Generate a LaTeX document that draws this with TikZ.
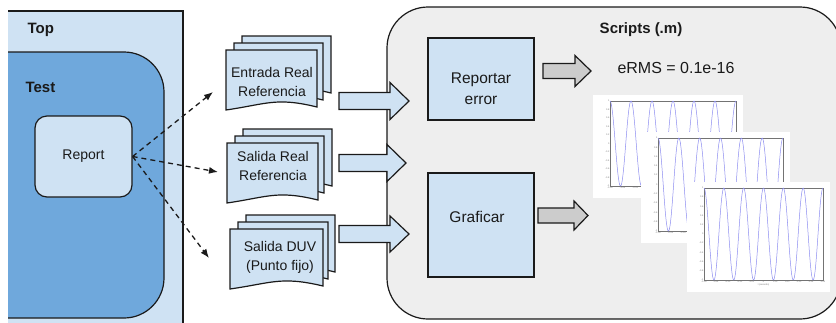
\documentclass[tikz,border=0pt]{standalone}
\usepackage{fontspec}
\setmainfont{Liberation Sans}
\usetikzlibrary{arrows.meta}

\definecolor{paleblue}{HTML}{CFE2F3}
\definecolor{midblue}{HTML}{6FA8DC}
\definecolor{panelgray}{HTML}{EEEEEE}
\definecolor{arrowgray}{HTML}{CCCCCC}
\definecolor{edge}{HTML}{1A1A1A}
\definecolor{wave}{HTML}{8C8CF0}
\definecolor{ticktext}{HTML}{777777}

% one sheet of a document stack: top-left corner, width, height
\newcommand\docsheet[4]{%
  \draw[sheet] (#1,#2) -- ++(#3,0) -- ++(0,#4-7)
    .. controls ++(-0.45*#3,-10) and ++(0.45*#3,-6) .. ({#1},{#2+#4-4}) -- cycle;}

% block arrow: start x, tip x, centre y, shaft half width, head half width, head length, style
\newcommand\fatarrow[7]{%
  \draw[#7] (#1,#3-#4) -- ({#2-#6},#3-#4) -- ({#2-#6},#3-#5) -- (#2,#3)
    -- ({#2-#6},#3+#5) -- ({#2-#6},#3+#4) -- (#1,#3+#4) -- cycle;}

% plot panel: top-left corner, width, height
\newcommand\plotpanel[4]{%
  \begin{scope}[shift={(#1,#2)}]
    \fill[white] (0,0) rectangle (#3,#4);
    \pgfmathsetmacro\axl{17}\pgfmathsetmacro\axr{#3-7}
    \pgfmathsetmacro\axt{6}\pgfmathsetmacro\axb{#4-12}
    \draw[line width=0.3pt,black!55] (\axl,\axt) rectangle (\axr,\axb);
    \draw[wave,line width=0.5pt] plot[domain=0:1,samples=300,smooth]
      ({\axl+\x*(\axr-\axl)},{\axt+(\axb-\axt)*(1-cos(2160*\x))/2});
    \foreach \v [count=\i from 0] in {1,0.8,0.6,0.4,0.2,0,-0.2,-0.4,-0.6,-0.8,-1}
      \node[tick,anchor=east] at (\axl-0.5,{\axt+\i*(\axb-\axt)/10}) {\v};
    \foreach \v [count=\i from 0] in {-0.05,-0.04,-0.03,-0.02,-0.01,0,0.01,0.02,0.03,0.04,0.05}
      \node[tick,anchor=north] at ({\axl+\i*(\axr-\axl)/10},\axb+0.3) {\v};
    \node[tick,anchor=north] at ({(\axl+\axr)/2},\axb+3.8) {t (seconds)};
  \end{scope}}

\begin{document}
\begin{tikzpicture}[x=1pt,y=-1pt,
  outline/.style={draw=edge,line width=1.2pt},
  sheet/.style={outline,fill=paleblue},
  bluearrow/.style={outline,fill=paleblue,line join=miter},
  grayarrow/.style={outline,fill=arrowgray,line join=miter},
  plainbox/.style={outline,fill=paleblue,inner sep=0pt},
  label/.style={font=\fontsize{14}{19}\selectfont,align=center,text=edge},
  biglabel/.style={font=\fontsize{15.5}{21}\selectfont,align=center,text=edge},
  title/.style={font=\fontsize{15}{18}\selectfont\bfseries,text=edge},
  tick/.style={font=\fontsize{2.3}{2.5}\selectfont,text=ticktext,inner sep=0pt},
  link/.style={edge,line width=1.3pt,dash pattern=on 5pt off 4pt,
    -{Latex[length=9pt,width=7pt]}}]
\useasboundingbox (0,0) rectangle (836,322);

% outer "Top" region and nested "Test" region
\fill[paleblue] (8,11) rectangle (183,330);
\draw[outline] (8,11) -- (183,11) -- (183,330);
\node[title,anchor=west] (toplbl) at (24,30) {Top};
\draw[outline,fill=midblue,rounded corners=40] (-20,52) -- (164,52) -- (164,318) -- (-20,318);
\fill[white] (0,0) rectangle (8,330);
\node[title,anchor=west] (testlbl) at (22,87) {Test};
\node[plainbox,rounded corners=12,minimum width=97,minimum height=81,label]
  (report) at (83.5,156.5) {Report};

% document stacks
\docsheet{242}{36}{89}{64}\docsheet{234}{43}{89}{64}\docsheet{226}{50}{91}{64}
\node[label] (docin) at (272,82) {Entrada Real\\Referencia};
\docsheet{243}{129}{89}{64}\docsheet{235}{136}{89}{64}\docsheet{227}{143}{91}{64}
\node[label] (docout) at (273,166) {Salida Real\\Referencia};
\docsheet{246}{215}{89}{64}\docsheet{238}{222}{90}{64}\docsheet{230}{229}{93}{64}
\node[label] (docduv) at (280,257) {Salida DUV\\(Punto fijo)};

% dashed links from the report to the documents
\coordinate (tipin) at (213,92);
\coordinate (tipout) at (218,172);
\coordinate (tipduv) at (209,258);
\draw[link] (report.east) -- (tipin);
\draw[link] (report.east) -- (tipout);
\draw[link] (report.east) -- (tipduv);

% scripts region
\draw[outline,fill=panelgray,rounded corners=41] (387,7) rectangle (841,319);
\node[title] (scripts) at (641,30) {Scripts (.m)};

% feeding arrows into the scripts region
\fatarrow{339}{409}{101}{8.5}{18.5}{19}{bluearrow}
\fatarrow{339}{406}{163}{8.5}{18.5}{19}{bluearrow}
\fatarrow{339}{409}{234}{8.5}{18}{19}{bluearrow}

% script blocks
\node[plainbox,minimum width=106,minimum height=82] (reportar) at (481,79) {};
\node[biglabel] (reportartxt) at (481,89) {Reportar\\error};
\node[plainbox,minimum width=106,minimum height=104] (graficar) at (481,225) {};
\node[biglabel] (graficartxt) at (477,217) {Graficar};

\fatarrow{543}{591}{71}{7.5}{15.5}{16}{grayarrow}
\fatarrow{538}{588}{215.5}{7.5}{14.5}{14}{grayarrow}

\node[font=\fontsize{16}{19}\selectfont,text=edge] (erms) at (676,68) {eRMS = 0.1e-16};

% stacked waveform plots
\plotpanel{593}{95}{150}{103}
\plotpanel{641}{132}{149}{111}
\plotpanel{687}{182}{143}{110}
\end{tikzpicture}
\end{document}
